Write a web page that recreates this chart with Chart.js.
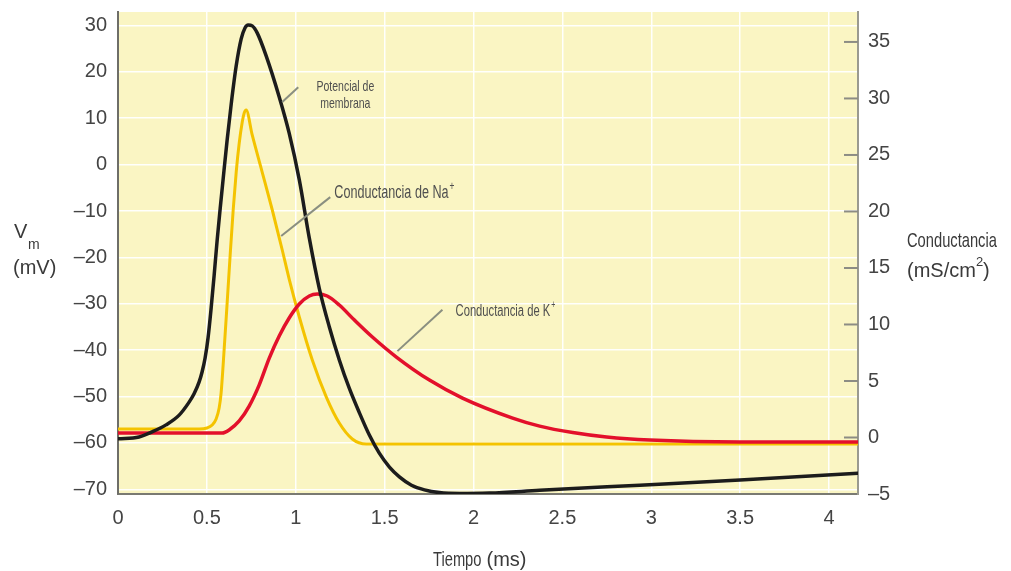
<!DOCTYPE html>
<html lang="es">
<head>
<meta charset="UTF-8">
<title>Potencial de acción</title>
<script src="https://cdn.jsdelivr.net/npm/chart.js"></script>
<style>
  body { margin: 0; background: #fff; }
  #wrap { width: 1011px; height: 571px; position: relative; }
</style>
</head>
<body>
<div id="wrap"><canvas id="chart"></canvas></div>
<script>
  // Potencial de membrana (mV) vs tiempo (ms)
  const vmTime   = [0, 0.118, 0.192, 0.270, 0.344, 0.400, 0.428, 0.456, 0.473, 0.490, 0.507, 0.524, 0.541, 0.558, 0.575, 0.592, 0.614, 0.637, 0.665, 0.693, 0.715, 0.732, 0.755, 0.783, 0.834, 0.907, 0.963, 1.020, 1.076, 1.132, 1.189, 1.245, 1.301, 1.358, 1.414, 1.470, 1.527, 1.583, 1.651, 1.724, 1.808, 1.921, 2.090, 2.372, 2.935, 3.499, 4.163];
  const vmValues = [-59.1, -58.7, -57.6, -56.1, -54.0, -51.2, -49.4, -46.9, -44.7, -41.7, -37.2, -30.9, -23.8, -16.2, -9.4, -2.9, 5.3, 13.1, 21.3, 27.1, 29.5, 30.1, 29.9, 28.4, 23.4, 14.6, 6.8, -3.3, -15.8, -26.6, -35.0, -42.1, -48.2, -53.5, -58.3, -62.2, -65.2, -67.3, -69.1, -70.1, -70.7, -70.9, -70.8, -70.2, -69.1, -68.0, -66.5];

  // Conductancia de Na+ (mS/cm2)
  const naTime   = [0, 0.456, 0.501, 0.530, 0.552, 0.569, 0.580, 0.597, 0.614, 0.631, 0.648, 0.665, 0.682, 0.699, 0.710, 0.721, 0.755, 0.811, 0.868, 0.924, 0.963, 1.020, 1.093, 1.172, 1.245, 1.318, 1.397, 4.163];
  const naValues = [0.75, 0.75, 0.84, 1.10, 1.63, 2.61, 3.93, 7.74, 11.90, 16.15, 20.13, 23.49, 26.06, 27.92, 28.71, 28.98, 26.77, 23.49, 20.13, 16.59, 14.02, 10.66, 6.85, 3.58, 1.28, -0.13, -0.58, -0.58];

  // Conductancia de K+ (mS/cm2)
  const kTime   = [0, 0.586, 0.625, 0.682, 0.738, 0.794, 0.851, 0.907, 0.963, 1.020, 1.076, 1.121, 1.177, 1.245, 1.330, 1.431, 1.566, 1.752, 1.938, 2.220, 2.372, 2.558, 2.749, 2.992, 3.499, 4.163];
  const kValues = [0.39, 0.39, 0.66, 1.46, 2.78, 4.64, 7.03, 8.98, 10.57, 11.81, 12.52, 12.69, 12.52, 11.72, 10.39, 8.89, 7.12, 5.08, 3.49, 1.72, 1.01, 0.44, 0.04, -0.23, -0.40, -0.40];

  const timeTicks = [0, 0.5, 1, 1.5, 2, 2.5, 3, 3.5, 4];
  const vmTicks = [-70, -60, -50, -40, -30, -20, -10, 0, 10, 20, 30];
  const gTicks = [-5, 0, 5, 10, 15, 20, 25, 30, 35];

  // rótulos (en unidades de datos: tiempo, mV)
  const notes = [
    { lines: ['Potencial de', 'membrana'], t: 1.279, v: 16.7, size: 15, align: 'center', lead: [0.924, 13.5, 1.014, 16.7] },
    { lines: ['Conductancia de Na'], sup: '+', t: 1.217, v: -6.1, size: 18, align: 'left', lead: [0.918, -15.4, 1.194, -7.0] },
    { lines: ['Conductancia de K'], sup: '+', t: 1.899, v: -31.6, size: 16, align: 'left', lead: [1.572, -40.2, 1.825, -31.3] }
  ];

  const toXY = (xs, ys) => xs.map((x, i) => ({ x: x, y: ys[i] }));
  const dash = v => String(v).replace('-', '\u2013');
  const sans = '"Liberation Sans", Arial, sans-serif';
  const squeeze = 0.7;

  // texto estrecho: fuente normal comprimida en horizontal
  function narrowText(ctx, text, x, y, size, align) {
    ctx.save();
    ctx.font = size + 'px ' + sans;
    ctx.translate(x, y);
    ctx.scale(squeeze, 1);
    ctx.textAlign = align;
    ctx.fillText(text, 0, 0);
    const w = ctx.measureText(text).width * squeeze;
    ctx.restore();
    return w;
  }

  const decor = {
    id: 'decor',
    beforeDraw(chart) {
      const { ctx, chartArea: a } = chart;
      ctx.save();
      ctx.fillStyle = '#faf5c3';
      ctx.fillRect(a.left, a.top, a.right - a.left, a.bottom - a.top);
      ctx.restore();
    },
    afterDraw(chart) {
      const { ctx, chartArea: a, scales } = chart;
      const x = scales.x, y = scales.y, y2 = scales.y2;
      ctx.save();
      // marcas hacia dentro del eje derecho
      ctx.strokeStyle = '#8c8c84';
      ctx.lineWidth = 2;
      gTicks.forEach(g => {
        if (g <= y2.min) return;
        const py = y2.getPixelForValue(g);
        ctx.beginPath();
        ctx.moveTo(a.right - 14, py);
        ctx.lineTo(a.right, py);
        ctx.stroke();
      });

      // rótulos de las curvas
      notes.forEach(n => {
        ctx.strokeStyle = '#8a8f80';
        ctx.lineWidth = 2;
        ctx.beginPath();
        ctx.moveTo(x.getPixelForValue(n.lead[0]), y.getPixelForValue(n.lead[1]));
        ctx.lineTo(x.getPixelForValue(n.lead[2]), y.getPixelForValue(n.lead[3]));
        ctx.stroke();
        ctx.fillStyle = '#4f4f4f';
        ctx.textBaseline = 'middle';
        const px = x.getPixelForValue(n.t);
        let py = y.getPixelForValue(n.v);
        n.lines.forEach(l => {
          const w = narrowText(ctx, l, px, py, n.size, n.align);
          if (n.sup) narrowText(ctx, n.sup, px + w + 1, py - n.size * 0.35, Math.round(n.size * 0.65), 'left');
          py += n.size + 2;
        });
      });

      // títulos de los ejes
      ctx.fillStyle = '#3a3a3a';
      ctx.textAlign = 'left';
      ctx.textBaseline = 'alphabetic';
      ctx.font = '20px ' + sans;
      ctx.fillText('V', 14, 238);
      ctx.fillText('(mV)', 13, 274);
      ctx.font = '14px ' + sans;
      ctx.fillText('m', 28, 249);

      narrowText(ctx, 'Conductancia', 907, 247, 21, 'left');
      ctx.font = '20px ' + sans;
      const base = '(mS/cm';
      ctx.fillText(base, 907, 277);
      const w = ctx.measureText(base).width;
      ctx.font = '13px ' + sans;
      ctx.fillText('2', 907 + w, 266);
      const w2 = ctx.measureText('2').width;
      ctx.font = '20px ' + sans;
      ctx.fillText(')', 907 + w + w2, 277);

      const wt = narrowText(ctx, 'Tiempo', 433, 566, 21, 'left');
      ctx.font = '20px ' + sans;
      ctx.fillText('(ms)', 433 + wt + 5, 566);
      ctx.restore();
    }
  };

  const tickFont = { family: sans, size: 20 };
  const noPadY = s => { s.paddingTop = 0; s.paddingBottom = 0; };

  new Chart(document.getElementById('chart'), {
    type: 'line',
    data: {
      datasets: [
        { label: 'Potencial de membrana', data: toXY(vmTime, vmValues), yAxisID: 'y', borderColor: '#1c1c1c', borderWidth: 3.5 },
        { label: 'Conductancia de K+', data: toXY(kTime, kValues), yAxisID: 'y2', borderColor: '#e3102b', borderWidth: 3.5 },
        { label: 'Conductancia de Na+', data: toXY(naTime, naValues), yAxisID: 'y2', borderColor: '#f4c300', borderWidth: 3 }
      ]
    },
    options: {
      responsive: true,
      maintainAspectRatio: false,
      animation: false,
      layout: { padding: { top: 12, left: 0, right: 0, bottom: 0 } },
      elements: {
        point: { radius: 0 },
        line: { cubicInterpolationMode: 'monotone', fill: false, borderCapStyle: 'round', borderJoinStyle: 'round' }
      },
      plugins: { legend: { display: false }, tooltip: { enabled: false } },
      scales: {
        x: {
          type: 'linear',
          min: 0,
          max: 4.163,
          afterBuildTicks: s => { s.ticks = timeTicks.map(v => ({ value: v })); },
          afterFit: s => { s.height = 77; s.paddingLeft = 0; s.paddingRight = 0; },
          ticks: { font: tickFont, color: '#444', padding: 12, maxRotation: 0, callback: v => String(v) },
          grid: { color: 'rgba(255,255,255,0.95)', lineWidth: 1.5, drawTicks: false },
          border: { color: '#7a7a72', width: 2 }
        },
        y: {
          type: 'linear',
          position: 'left',
          min: -71,
          max: 32.9,
          afterBuildTicks: s => { s.ticks = vmTicks.map(v => ({ value: v })); },
          afterFit: s => { s.width = 118; noPadY(s); },
          ticks: { font: tickFont, color: '#444', padding: 11, callback: v => dash(v) },
          grid: { color: 'rgba(255,255,255,0.95)', lineWidth: 1.5, drawTicks: false },
          border: { color: '#6e6e68', width: 2 }
        },
        y2: {
          type: 'linear',
          position: 'right',
          min: -5,
          max: 37.65,
          afterBuildTicks: s => { s.ticks = gTicks.map(v => ({ value: v })); },
          afterFit: s => { s.width = 153; noPadY(s); },
          ticks: { font: tickFont, color: '#444', padding: 10, callback: v => dash(v) },
          grid: { drawOnChartArea: false, drawTicks: false },
          border: { color: '#9a9a90', width: 2 }
        }
      }
    },
    plugins: [decor]
  });
</script>
</body>
</html>
